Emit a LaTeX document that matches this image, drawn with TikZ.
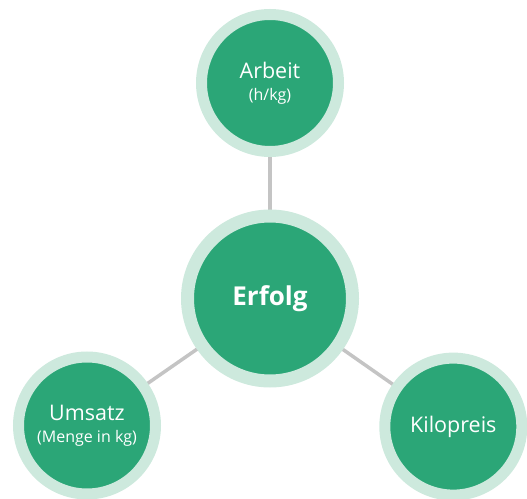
\documentclass[tikz,border=0pt]{standalone}
\usepackage{fontspec}
\setmainfont{Open Sans}
\usetikzlibrary{backgrounds}
\definecolor{dgreen}{HTML}{2BA677}
\definecolor{lgreen}{HTML}{CDE9DD}
\definecolor{lgray}{HTML}{C4C4C4}
\tikzset{
  small/.style={circle, fill=dgreen, draw=lgreen, line width=11pt, minimum size=137pt, inner sep=0pt, text=white, align=center, font=\fontsize{21.5}{24}\selectfont},
  big/.style={circle, fill=dgreen, draw=lgreen, line width=13pt, minimum size=165pt, inner sep=0pt, text=white, font=\fontsize{26}{30}\selectfont\bfseries},
  sub/.style={font=\fontsize{16}{18}\selectfont},
  link/.style={draw=lgray, line width=3.5pt}
}
\newcommand{\subtxt}[1]{{\fontsize{16}{18}\selectfont #1}}
\begin{document}
\begin{tikzpicture}[x=1pt,y=1pt]
\useasboundingbox (0,0) rectangle (527,498);
\node[big] (c) at (270,199.5) {Erfolg};
\node[small] (t) at (270,415) {Arbeit\\[-2pt]\subtxt{(h/kg)}};
\node[small] (l) at (87,72.5) {Umsatz\\[-2pt]\subtxt{(Menge in kg)}};
\node[small] (r) at (453.3,71.4) {Kilopreis};
\begin{scope}[on background layer]
\draw[link] (c.center) -- (t.center);
\draw[link] (c.center) -- (l.center);
\draw[link] (c.center) -- (r.center);
\end{scope}
\end{tikzpicture}
\end{document}
